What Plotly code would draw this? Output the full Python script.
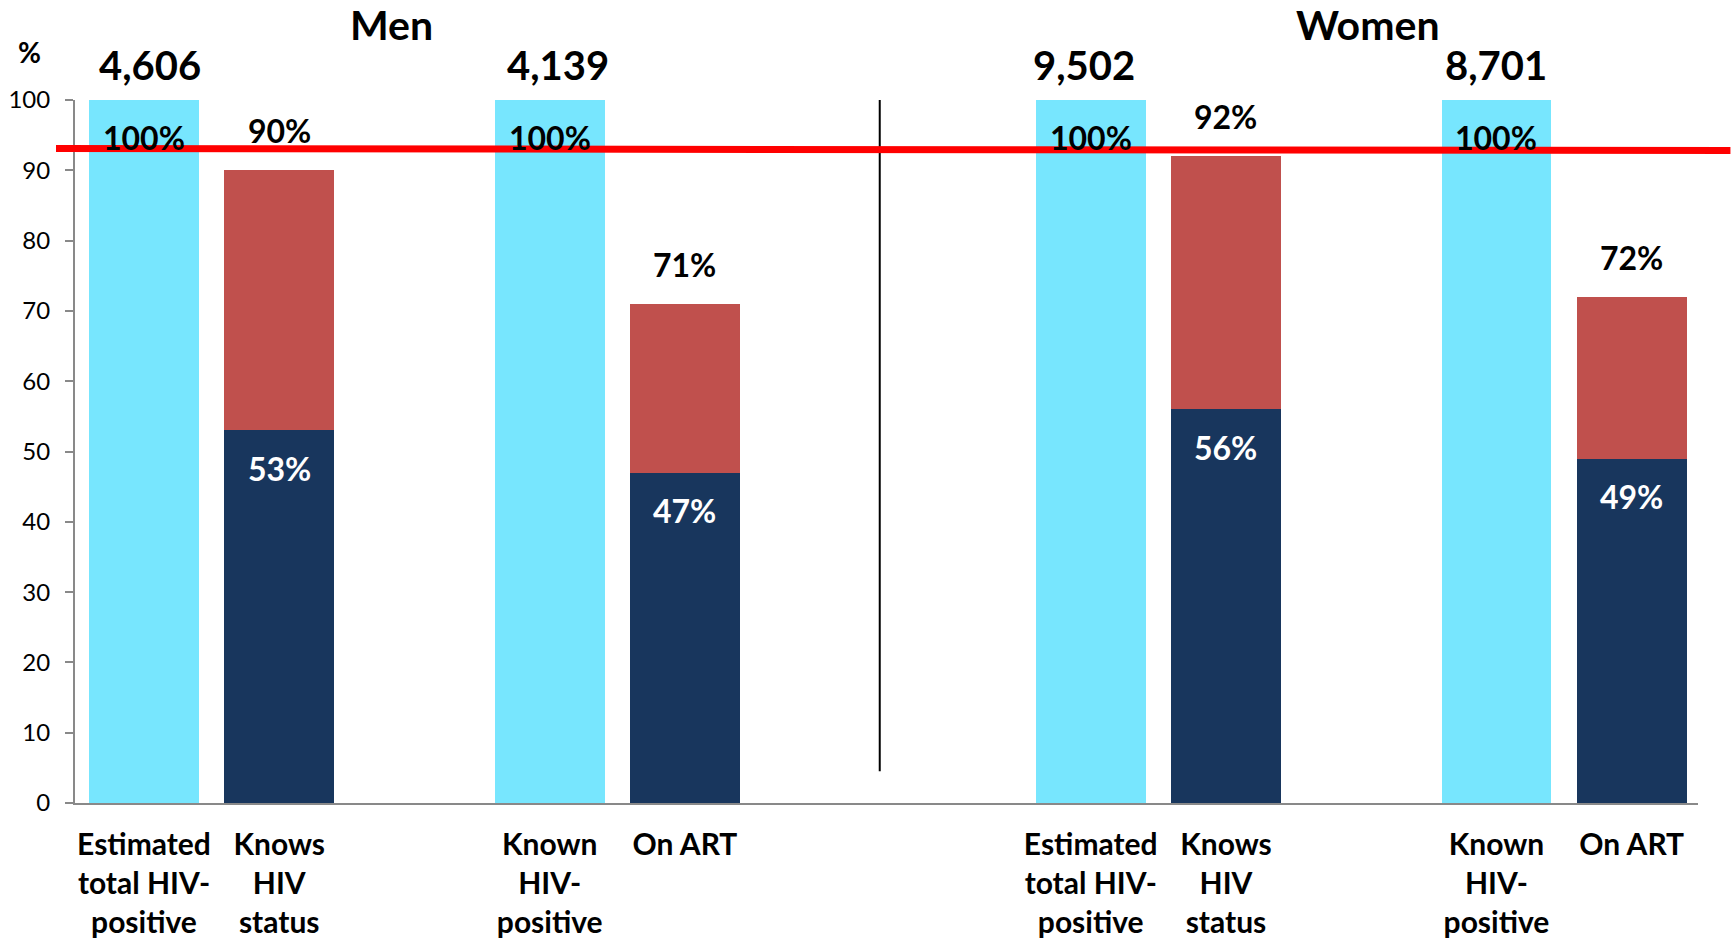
import plotly.graph_objects as go

# Cascade steps shown for each group
groups = ["Men", "Women"]
step_labels = [
    "Estimated<br>total HIV-<br>positive",
    "Knows<br>HIV<br>status",
    "Known<br>HIV-<br>positive",
    "On ART",
]

# Population counts above each 100% reference bar
base_counts = [4606, 4139, 9502, 8701]
# Reference bars (always 100%)
base_pct = [100, 100, 100, 100]
# Outcome bars: total height and the inner (dark) share
outcome_total = [90, 71, 92, 72]
outcome_inner = [53, 47, 56, 49]

# Target level drawn across the chart
target_left, target_right = 93.1, 92.8

LIGHT = "#77E6FE"
RED = "#C0504D"
NAVY = "#18365D"
FONT = "Lato, 'Open Sans', sans-serif"

Y_MAX = 100

# slot layout: reference, outcome, gap, reference, outcome per group
slot_offsets = [0, 1, 3, 4]
group_offsets = [0, 7]
tick_pos = [g + s for g in group_offsets for s in slot_offsets]
tick_text = step_labels * len(groups)
base_x = [g + s for g in group_offsets for s in (slot_offsets[0], slot_offsets[2])]
outcome_x = [g + s for g in group_offsets for s in (slot_offsets[1], slot_offsets[3])]
outcome_outer = [t - i for t, i in zip(outcome_total, outcome_inner)]

BAR_W = 0.81
# small horizontal nudges for the count labels (pixels)
count_shift = [6, 8, -7, 0]


def above(v):
    """Convert a value above the axis range to a paper y position."""
    return v / Y_MAX


def label(text, size, color="black", **pos):
    return dict(text=text, showarrow=False, xanchor="center", yanchor="middle",
                font=dict(family=FONT, size=size, color=color, weight="bold"), **pos)


fig = go.Figure()
fig.add_trace(go.Bar(x=base_x, y=base_pct, width=BAR_W, marker_color=LIGHT,
                     marker_line_width=0, hoverinfo="skip"))
fig.add_trace(go.Bar(x=outcome_x, y=outcome_inner, width=BAR_W, marker_color=NAVY,
                     marker_line_width=0, hoverinfo="skip"))
fig.add_trace(go.Bar(x=outcome_x, y=outcome_outer, width=BAR_W, marker_color=RED,
                     marker_line_width=0, hoverinfo="skip"))

annotations = []
for x, v, n, dx in zip(base_x, base_pct, base_counts, count_shift):
    annotations.append(label(f"{v}%", 32, x=x, y=v - 5.3))
    annotations.append(label(f"{n:,}", 40, x=x, xshift=dx, yref="paper", y=above(v + 5)))
for x, t, i in zip(outcome_x, outcome_total, outcome_inner):
    annotations.append(label(f"{t}%", 32, x=x, y=t + 5.6))
    annotations.append(label(f"{i}%", 32, color="white", x=x, y=i - 5.4))

title_x = [1.83, 9.05]
for gx, name in zip(title_x, groups):
    annotations.append(label(name, 41, x=gx, yref="paper", y=above(110.8)))
annotations.append(label("%", 28, xref="paper", x=-0.028, yref="paper", y=above(106.8)))

divider_x = 5.44
shapes = [
    dict(type="line", xref="x", yref="y", x0=divider_x, x1=divider_x, y0=4.5, y1=100.7,
         line=dict(color="black", width=2)),
    dict(type="line", xref="paper", yref="y", x0=-0.0117, x1=1.02,
         y0=target_left, y1=target_right, line=dict(color="#FF0000", width=7)),
]

fig.update_layout(
    width=1731, height=939,
    margin=dict(l=75, r=33, t=100, b=136),
    barmode="stack",
    showlegend=False,
    plot_bgcolor="white",
    paper_bgcolor="white",
    font=dict(family=FONT, color="black"),
    annotations=annotations,
    shapes=shapes,
    xaxis=dict(
        range=[-0.51, 11.49],
        tickmode="array", tickvals=tick_pos, ticktext=tick_text,
        tickfont=dict(family=FONT, size=30, color="black", weight="bold"),
        showline=True, linecolor="#898989", linewidth=2,
        ticks="", showgrid=False, zeroline=False,
        ticklabelstandoff=14, automargin=False,
    ),
    yaxis=dict(
        range=[0, Y_MAX], tickvals=list(range(0, 101, 10)),
        tickfont=dict(family=FONT, size=24, color="black"),
        showline=True, linecolor="#898989", linewidth=2,
        ticks="outside", ticklen=8, tickcolor="#898989", tickwidth=2,
        showgrid=False, zeroline=False,
        ticklabelstandoff=10, automargin=False,
    ),
)

fig.write_html("out.html")
